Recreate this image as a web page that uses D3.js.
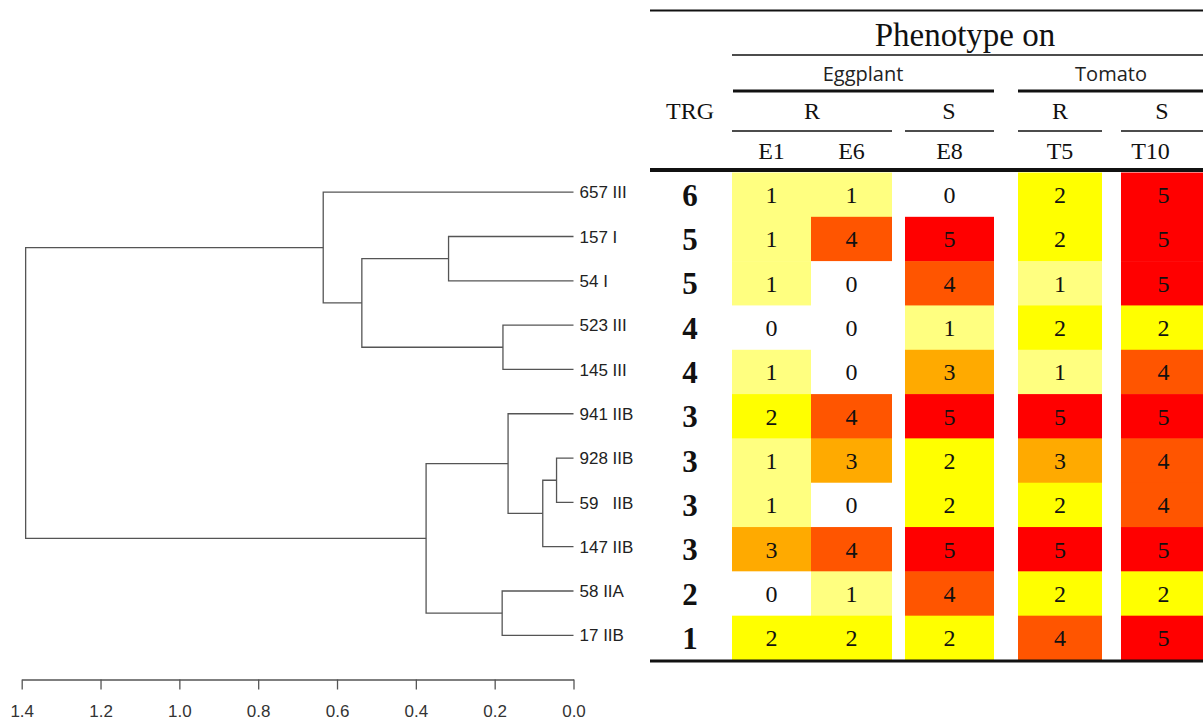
<!DOCTYPE html>
<html>
<head>
<meta charset="utf-8">
<script src="https://cdn.jsdelivr.net/npm/d3@7"></script>
<style>
  body { margin: 0; background: #fff; }
  svg { display: block; }
  .leaf { font-family: "Liberation Sans", Arial, sans-serif; font-size: 17px; fill: #222; white-space: pre; }
  .serif { font-family: "Liberation Serif", "Times New Roman", serif; fill: #111; }
  .host { font-family: "Open Sans", sans-serif; font-size: 20px; fill: #222; }
  .axis text { font-family: "Liberation Sans", Arial, sans-serif; font-size: 17px; fill: #333; }
  .axis path, .axis line { stroke: #555; stroke-width: 1.3; }
</style>
</head>
<body>
<svg id="chart" width="1203" height="722"></svg>
<script>
// strains, in dendrogram (top-to-bottom) order
const strains = ["657 III", "157 I", "54 I", "523 III", "145 III", "941 IIB",
                 "928 IIB", "59   IIB", "147 IIB", "58 IIA", "17 IIB"];
const trg = [6, 5, 5, 4, 4, 3, 3, 3, 3, 2, 1];

// phenotype scores per host line
const hostLines = ["E1", "E6", "E8", "T5", "T10"];
const E1  = [1, 1, 1, 0, 1, 2, 1, 1, 3, 0, 2];
const E6  = [1, 4, 0, 0, 0, 4, 3, 0, 4, 1, 2];
const E8  = [0, 5, 4, 1, 3, 5, 2, 2, 5, 4, 2];
const T5  = [2, 2, 1, 2, 1, 5, 3, 2, 5, 2, 4];
const T10 = [5, 5, 5, 2, 4, 5, 4, 4, 5, 2, 5];
const scores = { E1, E6, E8, T5, T10 };

// clustering: [left, right, height]; numbers = leaf index, "m#" = earlier merge
const merges = [
  [6, 7, 0.043],        // m0
  ["m0", 8, 0.078],     // m1
  [5, "m1", 0.166],     // m2
  [9, 10, 0.181],       // m3
  ["m2", "m3", 0.374],  // m4
  [3, 4, 0.179],        // m5
  [1, 2, 0.317],        // m6
  ["m6", "m5", 0.537],  // m7
  [0, "m7", 0.635],     // m8
  ["m8", "m4", 1.39]    // m9
];
const axisTicks = [1.4, 1.2, 1.0, 0.8, 0.6, 0.4, 0.2, 0.0];

const svg = d3.select("#chart");

// --- スケール ---
const rowTop = 172.5, rowBottom = 660;
const y = d3.scaleBand().domain(strains).range([rowTop, rowBottom]);
const leafY = s => y(s) + y.bandwidth() / 2 - 2.5;

const x = d3.scaleLinear().domain([1.4, 0]).range([21.7, 573.5]);

// host columns: left edge and width (widths differ, gaps between groups)
const colX = d3.scaleOrdinal().domain(hostLines).range([732, 811, 905, 1018, 1121]);
const colW = d3.scaleOrdinal().domain(hostLines).range([79, 81, 89, 84, 85]);

const color = d3.scaleOrdinal()
  .domain([0, 1, 2, 3, 4, 5])
  .range(["#FFFFFF", "#FFFF80", "#FFFF00", "#FFAA00", "#FF5500", "#FF0000"]);

// --- デンドログラム ---
const nodes = {};
const pos = ref => {
  if (typeof ref === "number") return { y: leafY(strains[ref]), h: 0 };
  return nodes[ref];
};
const dendro = svg.append("g")
  .attr("fill", "none")
  .attr("stroke", "#555")
  .attr("stroke-width", 1.3);

merges.forEach((m, i) => {
  const a = pos(m[0]), b = pos(m[1]), h = m[2];
  dendro.append("path")
    .attr("d", `M${x(a.h)},${a.y}H${x(h)}V${b.y}H${x(b.h)}`);
  nodes["m" + i] = { y: (a.y + b.y) / 2, h: h };
});

svg.append("g").selectAll("text")
  .data(strains)
  .join("text")
  .attr("class", "leaf")
  .attr("x", x(0) + 6)
  .attr("y", d => leafY(d))
  .attr("dy", "0.36em")
  .text(d => d);

// distance axis
svg.append("g")
  .attr("class", "axis")
  .attr("transform", "translate(0,679.5)")
  .call(d3.axisBottom(x)
    .tickValues(axisTicks)
    .tickFormat(d3.format(".1f"))
    .tickSize(10)
    .tickSizeOuter(0)
    .tickPadding(15));

// --- ヒートマップ ---
const cells = [];
hostLines.forEach(h => strains.forEach((s, i) => cells.push({ host: h, strain: s, v: scores[h][i] })));

svg.append("g").selectAll("rect")
  .data(cells)
  .join("rect")
  .attr("x", d => colX(d.host))
  .attr("y", d => y(d.strain))
  .attr("width", d => colW(d.host))
  .attr("height", y.bandwidth() + 0.5)
  .attr("fill", d => color(d.v));

svg.append("g").selectAll("text")
  .data(cells)
  .join("text")
  .attr("class", "serif")
  .attr("x", d => colX(d.host) + colW(d.host) / 2)
  .attr("y", d => y(d.strain) + y.bandwidth() / 2)
  .attr("dy", "0.35em")
  .attr("text-anchor", "middle")
  .style("font-size", "24px")
  .text(d => d.v);

// TRG column
svg.append("g").selectAll("text")
  .data(strains)
  .join("text")
  .attr("class", "serif")
  .attr("x", 690)
  .attr("y", d => y(d) + y.bandwidth() / 2)
  .attr("dy", "0.36em")
  .attr("text-anchor", "middle")
  .style("font-size", "31px")
  .style("font-weight", "bold")
  .text((d, i) => trg[i]);

// --- ヘッダー ---
const rule = (x1, x2, yy, w) => svg.append("line")
  .attr("x1", x1).attr("x2", x2).attr("y1", yy).attr("y2", yy)
  .attr("stroke", "#111").attr("stroke-width", w);

rule(650, 1203, 10.5, 2);
rule(732, 1203, 55, 1.5);
rule(733, 994, 91, 3);
rule(1018, 1203, 91, 3);
rule(732, 892, 131, 1.5);
rule(905, 994, 131, 1.5);
rule(1018, 1102, 131, 1.5);
rule(1121, 1203, 131, 1.5);
rule(650, 1203, 170, 4);
rule(650, 1203, 661, 3);

const label = (txt, cx, cy, size, cls) => svg.append("text")
  .attr("class", cls || "serif")
  .attr("x", cx).attr("y", cy)
  .attr("dy", "0.35em")
  .attr("text-anchor", "middle")
  .style("font-size", size + "px")
  .text(txt);

label("Phenotype on", 965, 34, 33);
label("Eggplant", 863, 74, 20, "host");
label("Tomato", 1111, 74, 20, "host");
label("TRG", 690, 111, 24);
label("R", 812, 111, 24);
label("S", 949, 111, 24);
label("R", 1060, 111, 24);
label("S", 1162, 111, 24);

svg.append("g").selectAll("text")
  .data(hostLines)
  .join("text")
  .attr("class", "serif")
  .attr("x", d => colX(d) + colW(d) / 2 - (d === "T10" ? 13 : 0))
  .attr("y", 151)
  .attr("dy", "0.35em")
  .attr("text-anchor", "middle")
  .style("font-size", "24px")
  .text(d => d);
</script>
</body>
</html>
